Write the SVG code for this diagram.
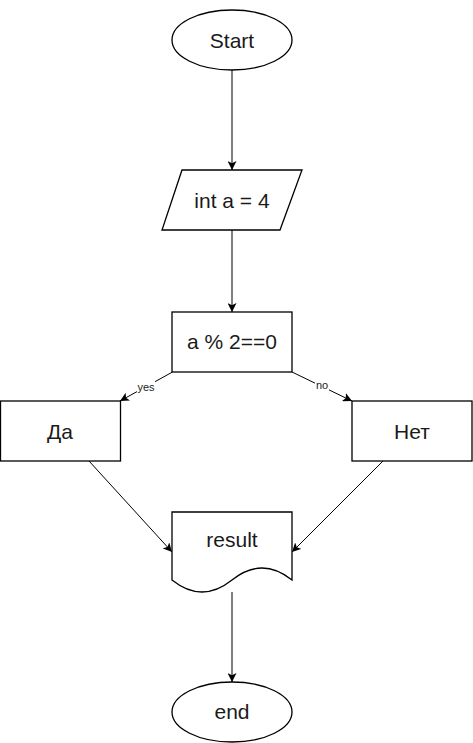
<svg xmlns="http://www.w3.org/2000/svg" width="473" height="743" viewBox="0 0 473 743">
<style>
.s{fill:#fff;stroke:#000;stroke-width:1.3}
.t{font-family:"Liberation Sans",Arial,sans-serif;font-size:21px;fill:#1a1a1a;text-anchor:middle}
.l{font-family:"Liberation Sans",Arial,sans-serif;font-size:11px;fill:#222;text-anchor:middle}
.e{fill:none;stroke:#000;stroke-width:1}
</style>
<defs>
<marker id="a" viewBox="0 0 10 10" refX="10" refY="5" markerWidth="9" markerHeight="9" markerUnits="userSpaceOnUse" orient="auto">
<path d="M0,0 L10,5 L0,10 L2.5,5 Z" fill="#000"/>
</marker>
</defs>
<rect width="473" height="743" fill="#fff"/>
<g id="edges">
<line class="e" x1="232" y1="70" x2="232" y2="170" marker-end="url(#a)"/>
<line class="e" x1="232" y1="230" x2="232" y2="312" marker-end="url(#a)"/>
<line class="e" x1="172.5" y1="372" x2="120" y2="401" marker-end="url(#a)"/>
<line class="e" x1="292" y1="372" x2="352" y2="401" marker-end="url(#a)"/>
<line class="e" x1="89" y1="461" x2="172" y2="552" marker-end="url(#a)"/>
<line class="e" x1="383" y1="461" x2="292" y2="552" marker-end="url(#a)"/>
<line class="e" x1="232" y1="592" x2="232" y2="682" marker-end="url(#a)"/>
<rect x="137" y="381" width="18" height="12" fill="#fff"/>
<text class="l" x="146" y="391">yes</text>
<rect x="315" y="379" width="14" height="12" fill="#fff"/>
<text class="l" x="322" y="389">no</text>
</g>
<g id="start">
<ellipse class="s" cx="232" cy="40" rx="60" ry="30"/>
<text class="t" x="232" y="48">Start</text>
</g>
<g id="input">
<polygon class="s" points="182,170 302,170 280,230 162,230"/>
<text class="t" x="232" y="208">int a = 4</text>
</g>
<g id="cond">
<rect class="s" x="172" y="312" width="120" height="60"/>
<text class="t" x="232" y="349">a % 2==0</text>
</g>
<g id="da">
<rect class="s" x="0.5" y="401" width="120" height="60"/>
<text class="t" x="60" y="439">Да</text>
</g>
<g id="net">
<rect class="s" x="352" y="401" width="120" height="60"/>
<text class="t" x="412" y="439">Нет</text>
</g>
<g id="result">
<path class="s" d="M172,512 H292 V580 Q262,556 232,580 Q202,604 172,580 Z"/>
<text class="t" x="232" y="547">result</text>
</g>
<g id="end">
<ellipse class="s" cx="232" cy="712" rx="60" ry="30"/>
<text class="t" x="232" y="719">end</text>
</g>
</svg>
